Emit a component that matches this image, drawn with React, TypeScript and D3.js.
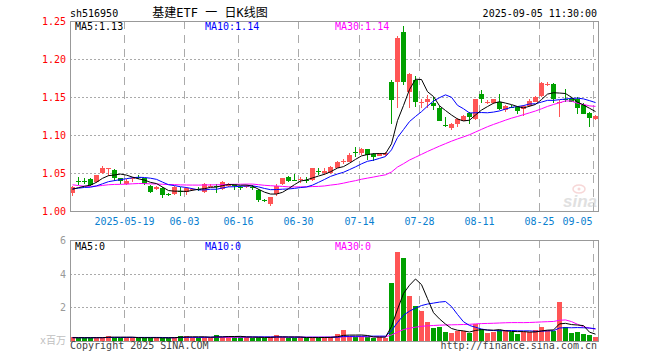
import React from 'react';
import * as d3 from 'd3';

const dates = [
  '2025-05-06','2025-05-07','2025-05-08','2025-05-09','2025-05-12','2025-05-13','2025-05-14','2025-05-15','2025-05-16','2025-05-19',
  '2025-05-20','2025-05-21','2025-05-22','2025-05-23','2025-05-26','2025-05-27','2025-05-28','2025-05-29','2025-05-30','2025-06-03',
  '2025-06-04','2025-06-05','2025-06-06','2025-06-09','2025-06-10','2025-06-11','2025-06-12','2025-06-13','2025-06-16','2025-06-17',
  '2025-06-18','2025-06-19','2025-06-20','2025-06-23','2025-06-24','2025-06-25','2025-06-26','2025-06-27','2025-06-30','2025-07-01',
  '2025-07-02','2025-07-03','2025-07-04','2025-07-07','2025-07-08','2025-07-09','2025-07-10','2025-07-11','2025-07-14','2025-07-15',
  '2025-07-16','2025-07-17','2025-07-18','2025-07-21','2025-07-22','2025-07-23','2025-07-24','2025-07-25','2025-07-28','2025-07-29',
  '2025-07-30','2025-07-31','2025-08-01','2025-08-04','2025-08-05','2025-08-06','2025-08-07','2025-08-08','2025-08-11','2025-08-12',
  '2025-08-13','2025-08-14','2025-08-15','2025-08-18','2025-08-19','2025-08-20','2025-08-21','2025-08-22','2025-08-25','2025-08-26',
  '2025-08-27','2025-08-28','2025-08-29','2025-09-01','2025-09-02','2025-09-03','2025-09-04','2025-09-05',
];

const opens = [
  1.024,1.039,1.039,1.042,1.038,1.050,1.055,1.054,1.043,1.036,
  1.043,1.045,1.043,1.033,1.029,1.030,1.022,1.023,1.026,1.025,
  1.028,1.029,1.025,1.033,1.033,1.029,1.033,1.035,1.031,1.031,
  1.032,1.028,1.0145,1.009,1.022,1.035,1.045,1.041,1.041,1.041,
  1.041,1.052,1.050,1.050,1.057,1.065,1.065,1.0775,1.076,1.081,
  1.075,1.073,1.074,1.170,1.170,1.236,1.157,1.173,1.1435,1.144,
  1.142,1.135,1.1135,1.109,1.1145,1.119,1.1286,1.121,1.154,1.1435,
  1.142,1.144,1.133,1.1375,1.137,1.134,1.138,1.144,1.151,1.1665,
  1.167,1.1425,1.1475,1.147,1.147,1.139,1.129,1.121,
];
const highs = [
  1.033,1.045,1.043,1.043,1.048,1.059,1.057,1.055,1.044,1.042,
  1.045,1.047,1.044,1.034,1.033,1.031,1.024,1.033,1.032,1.032,
  1.030,1.031,1.037,1.035,1.036,1.040,1.037,1.036,1.033,1.034,
  1.034,1.029,1.016,1.019,1.035,1.044,1.046,1.049,1.045,1.045,
  1.057,1.056,1.056,1.059,1.066,1.068,1.076,1.084,1.083,1.082,
  1.076,1.076,1.077,1.172,1.230,1.244,1.181,1.177,1.148,1.153,
  1.150,1.138,1.124,1.1155,1.122,1.126,1.130,1.148,1.159,1.146,
  1.148,1.154,1.139,1.139,1.138,1.139,1.148,1.151,1.170,1.170,
  1.168,1.146,1.160,1.150,1.150,1.142,1.130,1.126,
];
const lows = [
  1.020,1.034,1.035,1.033,1.037,1.049,1.046,1.040,1.036,1.034,
  1.038,1.042,1.034,1.024,1.028,1.017,1.020,1.021,1.020,1.021,
  1.026,1.026,1.024,1.031,1.024,1.028,1.032,1.027,1.027,1.030,
  1.027,1.0115,1.012,1.006,1.020,1.034,1.038,1.039,1.037,1.037,
  1.039,1.048,1.048,1.049,1.056,1.062,1.064,1.071,1.074,1.067,
  1.066,1.072,1.073,1.1145,1.135,1.166,1.135,1.1365,1.136,1.136,
  1.133,1.118,1.111,1.107,1.111,1.118,1.115,1.120,1.1425,1.141,
  1.141,1.133,1.130,1.135,1.128,1.125,1.137,1.143,1.150,1.164,
  1.142,1.124,1.143,1.143,1.128,1.127,1.110,1.120,
];
const closes = [
  1.031,1.0385,1.0385,1.034,1.047,1.057,1.056,1.043,1.040,1.040,
  1.044,1.0445,1.035,1.025,1.032,1.021,1.0215,1.031,1.025,1.030,
  1.0285,1.0285,1.035,1.0335,1.032,1.038,1.036,1.033,1.0305,1.033,
  1.0315,1.015,1.014,1.018,1.033,1.043,1.039,1.0405,1.0415,1.0405,
  1.056,1.0515,1.052,1.058,1.065,1.0655,1.074,1.077,1.081,1.074,
  1.071,1.075,1.076,1.146,1.227,1.170,1.180,1.144,1.144,1.147,
  1.138,1.119,1.113,1.1145,1.121,1.125,1.124,1.147,1.147,1.144,
  1.147,1.134,1.138,1.137,1.131,1.138,1.145,1.150,1.169,1.167,
  1.147,1.143,1.147,1.144,1.135,1.128,1.122,1.125,
];
// volume, millions
const volumes = [
  0.22,0.18,0.18,0.18,0.22,0.22,0.32,0.20,0.18,0.22,
  0.22,0.18,0.18,0.18,0.22,0.18,0.18,0.22,0.32,0.30,
  0.22,0.18,0.22,0.20,0.38,0.24,0.28,0.24,0.24,0.22,
  0.20,0.22,0.20,0.22,0.36,0.22,0.20,0.20,0.22,0.18,
  0.22,0.20,0.22,0.24,0.39,0.63,0.27,0.23,0.27,0.23,
  0.20,0.23,0.20,3.45,5.30,4.93,2.68,2.06,1.78,1.12,
  0.77,0.83,0.53,0.47,0.59,0.59,0.49,0.99,0.73,0.47,
  0.53,0.67,0.63,0.53,0.43,0.53,0.53,0.67,0.83,0.67,
  0.59,2.32,0.83,0.47,0.53,0.43,0.37,0.23,
];
// estimated sessions before the visible window (for moving-average warm-up)
const priorCloses = [
  1.070,1.065,1.040,1.036,1.030,1.028,1.032,1.035,1.033,1.030,
  1.034,1.036,1.038,1.035,1.033,1.032,1.034,1.036,1.035,1.031,
  1.030,1.029,1.031,1.030,1.029,1.028,1.029,1.027,1.028,
];
const priorVolumes = [
  0.25,0.22,0.20,0.18,0.24,0.21,0.20,0.19,0.23,0.22,
  0.26,0.24,0.21,0.20,0.19,0.22,0.25,0.23,0.20,0.21,
  0.20,0.19,0.18,0.20,0.22,0.20,0.18,0.19,0.20,
];

const tickDates = ['2025-05-19','2025-06-03','2025-06-16','2025-06-30','2025-07-14','2025-07-28','2025-08-11','2025-08-25','2025-09-05'];
const tickLabels = ['2025-05-19','06-03','06-16','06-30','07-14','07-28','08-11','08-25','09-05'];
const priceTicks = [1.0, 1.05, 1.1, 1.15, 1.2, 1.25];
const volumeTicks = [2, 4, 6];

const L = 70, R = 598, PT = 21, PB = 211, VT = 240, VB = 341;
const RED = '#ff5555', GREEN = '#00a000';
const MONO = '"DejaVu Sans Mono", "Liberation Mono", monospace';

function movingAverage(prior: number[], values: number[], n: number): number[] {
  const all = prior.concat(values);
  return values.map((_, i) => {
    const end = prior.length + i;
    return d3.mean(all.slice(Math.max(0, end - n + 1), end + 1)) as number;
  });
}

export default function App() {
  const n = dates.length;
  const idx = d3.range(n);
  const x = d3.scaleBand<number>().domain(idx).range([L, R]).paddingInner(1 / 6).paddingOuter(0);
  const y = d3.scaleLinear().domain([1.0, 1.25]).range([PB, PT]);
  const vy = d3.scaleLinear().domain([0, 6]).range([VB, VT]);
  const left = (i: number) => Math.round(x(i) as number);
  const cx = (i: number) => left(i) + 2.5;

  const pm5 = movingAverage(priorCloses, closes, 5);
  const pm10 = movingAverage(priorCloses, closes, 10);
  const pm30 = movingAverage(priorCloses, closes, 30);
  const vm5 = movingAverage(priorVolumes, volumes, 5);
  const vm10 = movingAverage(priorVolumes, volumes, 10);
  const vm30 = movingAverage(priorVolumes, volumes, 30);

  const priceLine = d3.line<number>().x((_, i) => cx(i)).y((d) => y(d));
  const volLine = d3.line<number>().x((_, i) => cx(i)).y((d) => vy(d));

  const isUp = (i: number) => closes[i] >= opens[i];
  const gridXs = tickDates.map((d) => left(dates.indexOf(d)) + 0.5);

  return (
    <svg width={660} height={360} style={{ position: 'absolute', left: 0, top: 0, background: '#fff' }}>
      {/* header */}
      <text x={70} y={17} fontFamily={MONO} fontSize={10} fill="#000">sh516950</text>
      <text x={210} y={17} textAnchor="middle" fontFamily={'"DejaVu Sans Mono", "Noto Sans CJK SC", sans-serif'} fontSize={12} fill="#000">基建ETF 一 日K线图</text>
      <text x={597} y={17} textAnchor="end" fontFamily={MONO} fontSize={10} fill="#000">2025-09-05 11:30:00</text>

      {/* price grid */}
      <g shapeRendering="crispEdges">
        {priceTicks.filter((t) => t > 1.0 && t < 1.25).map((t) => (
          <line key={t} x1={L} x2={R} y1={Math.round(y(t)) + 0.5} y2={Math.round(y(t)) + 0.5} stroke="#aaa" strokeDasharray="2,2" />
        ))}
        {gridXs.map((gx, k) => (
          <line key={'pv' + k} x1={gx} x2={gx} y1={PT} y2={PB} stroke="#aaa" strokeDasharray="8,6" />
        ))}
        {volumeTicks.filter((t) => t < 6).map((t) => (
          <line key={'v' + t} x1={L} x2={R} y1={Math.round(vy(t)) + 0.5} y2={Math.round(vy(t)) + 0.5} stroke="#aaa" strokeDasharray="2,2" />
        ))}
        {gridXs.map((gx, k) => (
          <line key={'vv' + k} x1={gx} x2={gx} y1={VT} y2={VB} stroke="#aaa" strokeDasharray="8,6" />
        ))}
      </g>

      {/* watermark */}
      <g opacity={0.55}>
        <ellipse cx={579} cy={189} rx={6} ry={4} fill="none" stroke="#f2b8b8" strokeWidth={1.5} />
        <circle cx={579} cy={189} r={1.5} fill="#f2b8b8" />
        <text x={597} y={207} textAnchor="end" fontFamily="Liberation Sans, Arial, sans-serif" fontStyle="italic" fontWeight="bold" fontSize={17} fill="#c8c8c8">sina</text>
      </g>

      {/* candles */}
      <g shapeRendering="crispEdges">
        {idx.map((i) => {
          const col = isUp(i) ? RED : GREEN;
          const top = Math.round(y(Math.max(opens[i], closes[i])));
          const bot = Math.round(y(Math.min(opens[i], closes[i])));
          return (
            <g key={i}>
              <line x1={cx(i)} x2={cx(i)} y1={Math.round(y(highs[i]))} y2={Math.round(y(lows[i]))} stroke={col} />
              <rect x={left(i)} y={top} width={5} height={Math.max(1, bot - top)} fill={col} />
            </g>
          );
        })}
      </g>
      <path d={priceLine(pm30) || ''} fill="none" stroke="#ff00ff" strokeWidth={1} />
      <path d={priceLine(pm10) || ''} fill="none" stroke="#0000ff" strokeWidth={1} />
      <path d={priceLine(pm5) || ''} fill="none" stroke="#000" strokeWidth={1} />

      {/* volume bars */}
      <g shapeRendering="crispEdges">
        {idx.map((i) => {
          const top = Math.round(vy(volumes[i]));
          return <rect key={i} x={left(i)} y={top} width={5} height={Math.max(1, Math.round(vy(0)) - top)} fill={isUp(i) ? RED : GREEN} />;
        })}
      </g>
      <path d={volLine(vm30) || ''} fill="none" stroke="#ff00ff" strokeWidth={1} />
      <path d={volLine(vm10) || ''} fill="none" stroke="#0000ff" strokeWidth={1} />
      <path d={volLine(vm5) || ''} fill="none" stroke="#000" strokeWidth={1} />

      {/* frames */}
      <g shapeRendering="crispEdges" fill="none" stroke="#999">
        <rect x={L + 0.5} y={PT + 0.5} width={R - L} height={PB - PT} />
        <rect x={L + 0.5} y={VT + 0.5} width={R - L} height={VB - VT} />
      </g>

      {/* price axis */}
      {priceTicks.map((t) => (
        <text key={t} x={66} y={y(t) + 4} textAnchor="end" fontFamily={MONO} fontSize={10} fill="#ff0000">{t.toFixed(2)}</text>
      ))}
      {/* date axis */}
      {tickDates.map((d, k) => {
        const last = k === tickDates.length - 1;
        return (
          <text key={d} x={last ? gridXs[k] - 1 : gridXs[k]} y={225} textAnchor={last ? 'end' : 'middle'} fontFamily={MONO} fontSize={10} fill="#0a80d0">{tickLabels[k]}</text>
        );
      })}
      {/* MA legends */}
      <text x={75} y={30} fontFamily={MONO} fontSize={10} fill="#000">{'MA5:' + pm5[n - 1].toFixed(2)}</text>
      <text x={205} y={30} fontFamily={MONO} fontSize={10} fill="#0000ff">{'MA10:' + pm10[n - 1].toFixed(2)}</text>
      <text x={335} y={30} fontFamily={MONO} fontSize={10} fill="#ff00ff">{'MA30:' + pm30[n - 1].toFixed(2)}</text>

      {/* volume axis */}
      {volumeTicks.map((t) => (
        <text key={t} x={66} y={vy(t) + 4} textAnchor="end" fontFamily={MONO} fontSize={10} fill="#999">{t}</text>
      ))}
      <text x={66} y={344} textAnchor="end" fontFamily={'"DejaVu Sans Mono", "Noto Sans CJK SC", sans-serif'} fontSize={10} fill="#c0c0c0">x百万</text>
      <text x={75} y={250} fontFamily={MONO} fontSize={10} fill="#000">{'MA5:' + Math.floor(vm5[n - 1])}</text>
      <text x={205} y={250} fontFamily={MONO} fontSize={10} fill="#0000ff">{'MA10:' + Math.floor(vm10[n - 1])}</text>
      <text x={335} y={250} fontFamily={MONO} fontSize={10} fill="#ff00ff">{'MA30:' + Math.floor(vm30[n - 1])}</text>

      {/* footer */}
      <text x={70} y={349} fontFamily={MONO} fontSize={10} fill="#444">Copyright 2025 SINA.COM</text>
      <text x={597} y={349} textAnchor="end" fontFamily={MONO} fontSize={10} fill="#444">http://finance.sina.com.cn</text>
    </svg>
  );
}
